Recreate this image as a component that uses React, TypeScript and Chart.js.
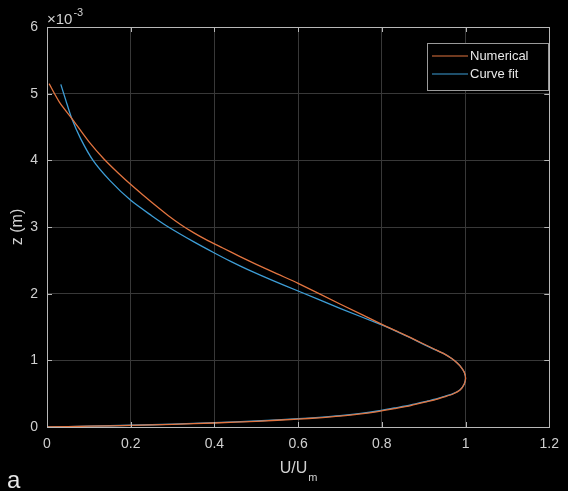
import React, { useEffect, useRef } from "react";
import { Chart, registerables } from "chart.js";

Chart.register(...registerables);

// Numerical profile: U/Um (x) and z in metres (y)
const numericalU = [0.005, 0.03, 0.059, 0.10, 0.136, 0.17, 0.205, 0.25, 0.29, 0.32, 0.35, 0.38, 0.42, 0.46, 0.50, 0.55, 0.60, 0.70, 0.81, 0.84, 0.869, 0.895, 0.925, 0.948, 0.966, 0.98, 0.99, 0.997, 1.0, 0.997, 0.987, 0.97, 0.948, 0.93, 0.91, 0.869, 0.83, 0.79, 0.75, 0.70, 0.65, 0.60, 0.50, 0.40, 0.30, 0.20, 0.10, 0.0];
const numericalZ = [5.15e-3, 4.87e-3, 4.63e-3, 4.28e-3, 4.02e-3, 3.81e-3, 3.61e-3, 3.37e-3, 3.17e-3, 3.035e-3, 2.915e-3, 2.81e-3, 2.685e-3, 2.56e-3, 2.44e-3, 2.297e-3, 2.155e-3, 1.845e-3, 1.51e-3, 1.425e-3, 1.34e-3, 1.26e-3, 1.17e-3, 1.10e-3, 1.03e-3, 0.96e-3, 0.892e-3, 0.82e-3, 0.73e-3, 0.645e-3, 0.555e-3, 0.495e-3, 0.45e-3, 0.415e-3, 0.383e-3, 0.322e-3, 0.276e-3, 0.232e-3, 0.197e-3, 0.163e-3, 0.138e-3, 0.118e-3, 0.085e-3, 0.06e-3, 0.04e-3, 0.025e-3, 0.012e-3, 0.0];

// Curve fit profile
const fitU = [0.033, 0.045, 0.059, 0.08, 0.11, 0.15, 0.20, 0.25, 0.29, 0.35, 0.40, 0.44, 0.48, 0.54, 0.60, 0.70, 0.81, 0.84, 0.869, 0.895, 0.925, 0.948, 0.966, 0.98, 0.99, 0.997, 1.0, 0.997, 0.987, 0.97, 0.948, 0.93, 0.91, 0.869, 0.83, 0.79, 0.75, 0.70, 0.65, 0.60, 0.50, 0.40, 0.30, 0.20, 0.10, 0.0];
const fitZ = [5.14e-3, 4.90e-3, 4.63e-3, 4.33e-3, 4.0e-3, 3.70e-3, 3.40e-3, 3.17e-3, 3.0e-3, 2.78e-3, 2.61e-3, 2.48e-3, 2.36e-3, 2.195e-3, 2.04e-3, 1.78e-3, 1.505e-3, 1.42e-3, 1.335e-3, 1.255e-3, 1.165e-3, 1.10e-3, 1.03e-3, 0.96e-3, 0.892e-3, 0.82e-3, 0.73e-3, 0.645e-3, 0.56e-3, 0.50e-3, 0.455e-3, 0.42e-3, 0.39e-3, 0.33e-3, 0.285e-3, 0.24e-3, 0.205e-3, 0.17e-3, 0.145e-3, 0.125e-3, 0.09e-3, 0.065e-3, 0.042e-3, 0.026e-3, 0.012e-3, 0.0];

const seriesLabels = ["Numerical", "Curve fit"];
const seriesColors = ["#E2743F", "#3D9DD6"];

const xTicks = [0, 0.2, 0.4, 0.6, 0.8, 1, 1.2];
const yTicks = [0, 1e-3, 2e-3, 3e-3, 4e-3, 5e-3, 6e-3];

const FONT = "'Liberation Sans', Arial, sans-serif";
const TEXT = "#d0d0d0";

const overlay = {
  id: "overlay",
  afterDatasetsDraw(chart: any) {
    const { ctx, chartArea: a, scales } = chart;
    ctx.save();
    // axes box
    ctx.strokeStyle = "#b8b8b8";
    ctx.lineWidth = 1;
    ctx.strokeRect(Math.round(a.left) + 0.5, Math.round(a.top) + 0.5, Math.round(a.right - a.left), Math.round(a.bottom - a.top));
    // inward ticks
    const tl = 5;
    ctx.beginPath();
    scales.x.ticks.forEach((t: any) => {
      const px = Math.round(scales.x.getPixelForValue(t.value)) + 0.5;
      ctx.moveTo(px, a.bottom); ctx.lineTo(px, a.bottom - tl);
      ctx.moveTo(px, a.top); ctx.lineTo(px, a.top + tl);
    });
    scales.y.ticks.forEach((t: any) => {
      const py = Math.round(scales.y.getPixelForValue(t.value)) + 0.5;
      ctx.moveTo(a.left, py); ctx.lineTo(a.left + tl, py);
      ctx.moveTo(a.right, py); ctx.lineTo(a.right - tl, py);
    });
    ctx.stroke();

    ctx.fillStyle = TEXT;
    ctx.textBaseline = "alphabetic";
    // x title U/U_m
    ctx.font = `16px ${FONT}`;
    const main = "U/U";
    const mw = ctx.measureText(main).width;
    ctx.font = `11px ${FONT}`;
    const sw = ctx.measureText("m").width;
    const cx = (a.left + a.right) / 2;
    const startX = cx - (mw + sw) / 2;
    ctx.font = `16px ${FONT}`;
    ctx.textAlign = "left";
    ctx.fillText(main, startX, 473);
    ctx.font = `11px ${FONT}`;
    ctx.fillText("m", startX + mw + 1, 481);

    // y title
    ctx.save();
    ctx.translate(22, (a.top + a.bottom) / 2);
    ctx.rotate(-Math.PI / 2);
    ctx.textAlign = "center";
    ctx.font = `16px ${FONT}`;
    ctx.fillText("z (m)", 0, 0);
    ctx.restore();

    // exponent label
    ctx.textAlign = "left";
    ctx.font = `15px ${FONT}`;
    ctx.fillText("\u00d710", a.left, 24);
    const ew = ctx.measureText("\u00d710").width;
    ctx.font = `11px ${FONT}`;
    ctx.fillText("-3", a.left + ew + 1, 16);

    // panel letter
    ctx.font = `24px ${FONT}`;
    ctx.fillStyle = "#e6e6e6";
    ctx.fillText("a", 7, 488);

    // legend
    const lx = 427, ly = 43, lw = 121, lh = 47;
    ctx.fillStyle = "#000";
    ctx.fillRect(lx, ly, lw, lh);
    ctx.strokeStyle = "#9a9a9a";
    ctx.strokeRect(lx + 0.5, ly + 0.5, lw, lh);
    ctx.font = `13px ${FONT}`;
    chart.data.datasets.forEach((ds: any, i: number) => {
      const yy = ly + 13 + i * 18;
      ctx.strokeStyle = ds.borderColor;
      ctx.lineWidth = 1.2;
      ctx.beginPath();
      ctx.moveTo(lx + 5, yy); ctx.lineTo(lx + 41, yy);
      ctx.stroke();
      ctx.fillStyle = "#e8e8e8";
      ctx.textBaseline = "middle";
      ctx.fillText(ds.label, lx + 43, yy);
    });
    ctx.restore();
  },
};

export default function App() {
  const ref = useRef<HTMLCanvasElement | null>(null);
  useEffect(() => {
    if (!ref.current) return;
    const mk = (us: number[], zs: number[]) => us.map((u, i) => ({ x: u, y: zs[i] }));
    const chart = new Chart(ref.current, {
      type: "scatter",
      data: {
        datasets: [
          { label: seriesLabels[0], data: mk(numericalU, numericalZ), borderColor: seriesColors[0], backgroundColor: seriesColors[0], showLine: true, pointRadius: 0, borderWidth: 1.3, tension: 0.25 },
          { label: seriesLabels[1], data: mk(fitU, fitZ), borderColor: seriesColors[1], backgroundColor: seriesColors[1], showLine: true, pointRadius: 0, borderWidth: 1.3, tension: 0.25 },
        ],
      },
      options: {
        animation: false,
        responsive: false,
        maintainAspectRatio: false,
        layout: { padding: { top: 27, right: 15, left: 0, bottom: 0 } },
        plugins: { legend: { display: false }, tooltip: { enabled: false } },
        scales: {
          x: {
            type: "linear",
            min: 0,
            max: 1.2,
            afterBuildTicks: (s: any) => { s.ticks = xTicks.map((v) => ({ value: v })); },
            afterFit: (s: any) => { s.height = 64; },
            grid: { color: "#383838", drawTicks: false, lineWidth: 1 },
            border: { display: false },
            ticks: { color: TEXT, font: { family: FONT, size: 14 }, padding: 9, callback: (v: any) => String(Math.round(v * 10) / 10) },
          },
          y: {
            type: "linear",
            min: 0,
            max: 6e-3,
            afterBuildTicks: (s: any) => { s.ticks = yTicks.map((v) => ({ value: v })); },
            afterFit: (s: any) => { s.width = 47; },
            grid: { color: "#383838", drawTicks: false, lineWidth: 1 },
            border: { display: false },
            ticks: { color: TEXT, font: { family: FONT, size: 14 }, padding: 9, callback: (v: any) => String(Math.round(v * 1000)) },
          },
        },
      },
      plugins: [overlay],
    });
    return () => chart.destroy();
  }, []);
  return (
    <div style={{ position: "fixed", left: 0, top: 0, width: 568, height: 491, background: "#000" }}>
      <canvas ref={ref} width={568} height={491} style={{ display: "block" }} />
    </div>
  );
}
